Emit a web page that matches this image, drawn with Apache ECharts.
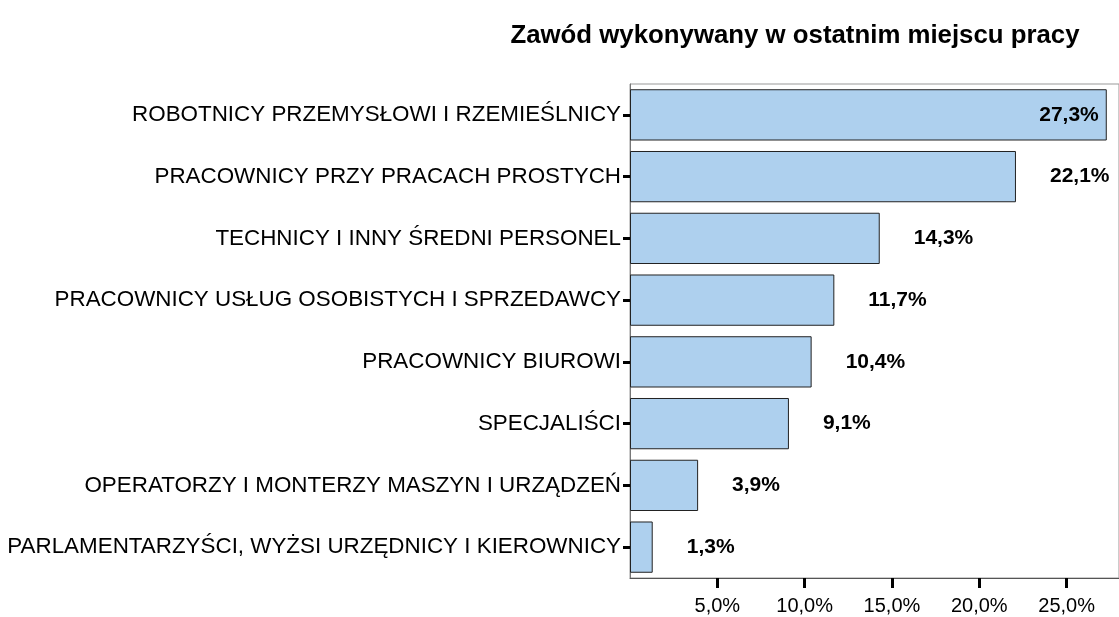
<!DOCTYPE html>
<html>
<head>
<meta charset="utf-8">
<script src="https://cdn.jsdelivr.net/npm/echarts@6/dist/echarts.min.js"></script>
<style>
  html, body { margin: 0; padding: 0; background: #fff; }
  #chart { width: 1119px; height: 617px; }
</style>
</head>
<body>
<div id="chart"></div>
<script>
const title = 'Zawód wykonywany w ostatnim miejscu pracy'
const categories = [
  'ROBOTNICY PRZEMYSŁOWI I RZEMIEŚLNICY',
  'PRACOWNICY PRZY PRACACH PROSTYCH',
  'TECHNICY I INNY ŚREDNI PERSONEL',
  'PRACOWNICY USŁUG OSOBISTYCH I SPRZEDAWCY',
  'PRACOWNICY BIUROWI',
  'SPECJALIŚCI',
  'OPERATORZY I MONTERZY MASZYN I URZĄDZEŃ',
  'PARLAMENTARZYŚCI, WYŻSI URZĘDNICY I KIEROWNICY'
]
const values = [27.3, 22.1, 14.3, 11.7, 10.4, 9.1, 3.9, 1.3]
const xTicks = [5, 10, 15, 20, 25]

const pct = v => v.toFixed(1).replace('.', ',') + '%'
const font = '"Liberation Sans", Arial, sans-serif'

const chart = echarts.init(document.getElementById('chart'))

const barData = values.map((v, i) => {
  if (i === 0) {
    return { value: v, label: { position: 'insideRight', distance: 8 } }
  }
  return v
})

chart.setOption({
  animation: false,
  title: {
    text: title,
    left: 790,
    top: 18,
    textAlign: 'center',
    textStyle: { fontFamily: font, fontSize: 25.8, fontWeight: 'bold', color: '#000' }
  },
  grid: {
    left: 630, right: 0, top: 84, bottom: 39,
    show: true, borderColor: '#999', borderWidth: 1
  },
  xAxis: {
    type: 'value',
    min: 0,
    max: 28,
    interval: 5,
    splitLine: { show: false },
    axisLine: { show: true, lineStyle: { color: '#555', width: 1 } },
    axisTick: {
      show: true, length: 10, customValues: xTicks,
      lineStyle: { color: '#000', width: 3 }
    },
    axisLabel: {
      customValues: xTicks,
      formatter: v => pct(v),
      fontFamily: font, fontSize: 20, color: '#000', margin: 18
    }
  },
  yAxis: {
    type: 'category',
    data: categories,
    inverse: true,
    axisLine: { show: true, lineStyle: { color: '#777', width: 1 } },
    axisTick: {
      show: true, length: 7, alignWithLabel: true,
      lineStyle: { color: '#000', width: 3 }
    },
    axisLabel: { fontFamily: font, fontSize: 22.4, color: '#000', margin: 9 }
  },
  series: [{
    type: 'bar',
    data: barData,
    barCategoryGap: '17%',
    itemStyle: { color: '#aed0ee', borderColor: '#222', borderWidth: 1 },
    label: {
      show: true,
      position: 'right',
      distance: 34,
      formatter: p => pct(p.value),
      fontFamily: font, fontSize: 21, fontWeight: 'bold', color: '#000'
    }
  }]
})
</script>
</body>
</html>
